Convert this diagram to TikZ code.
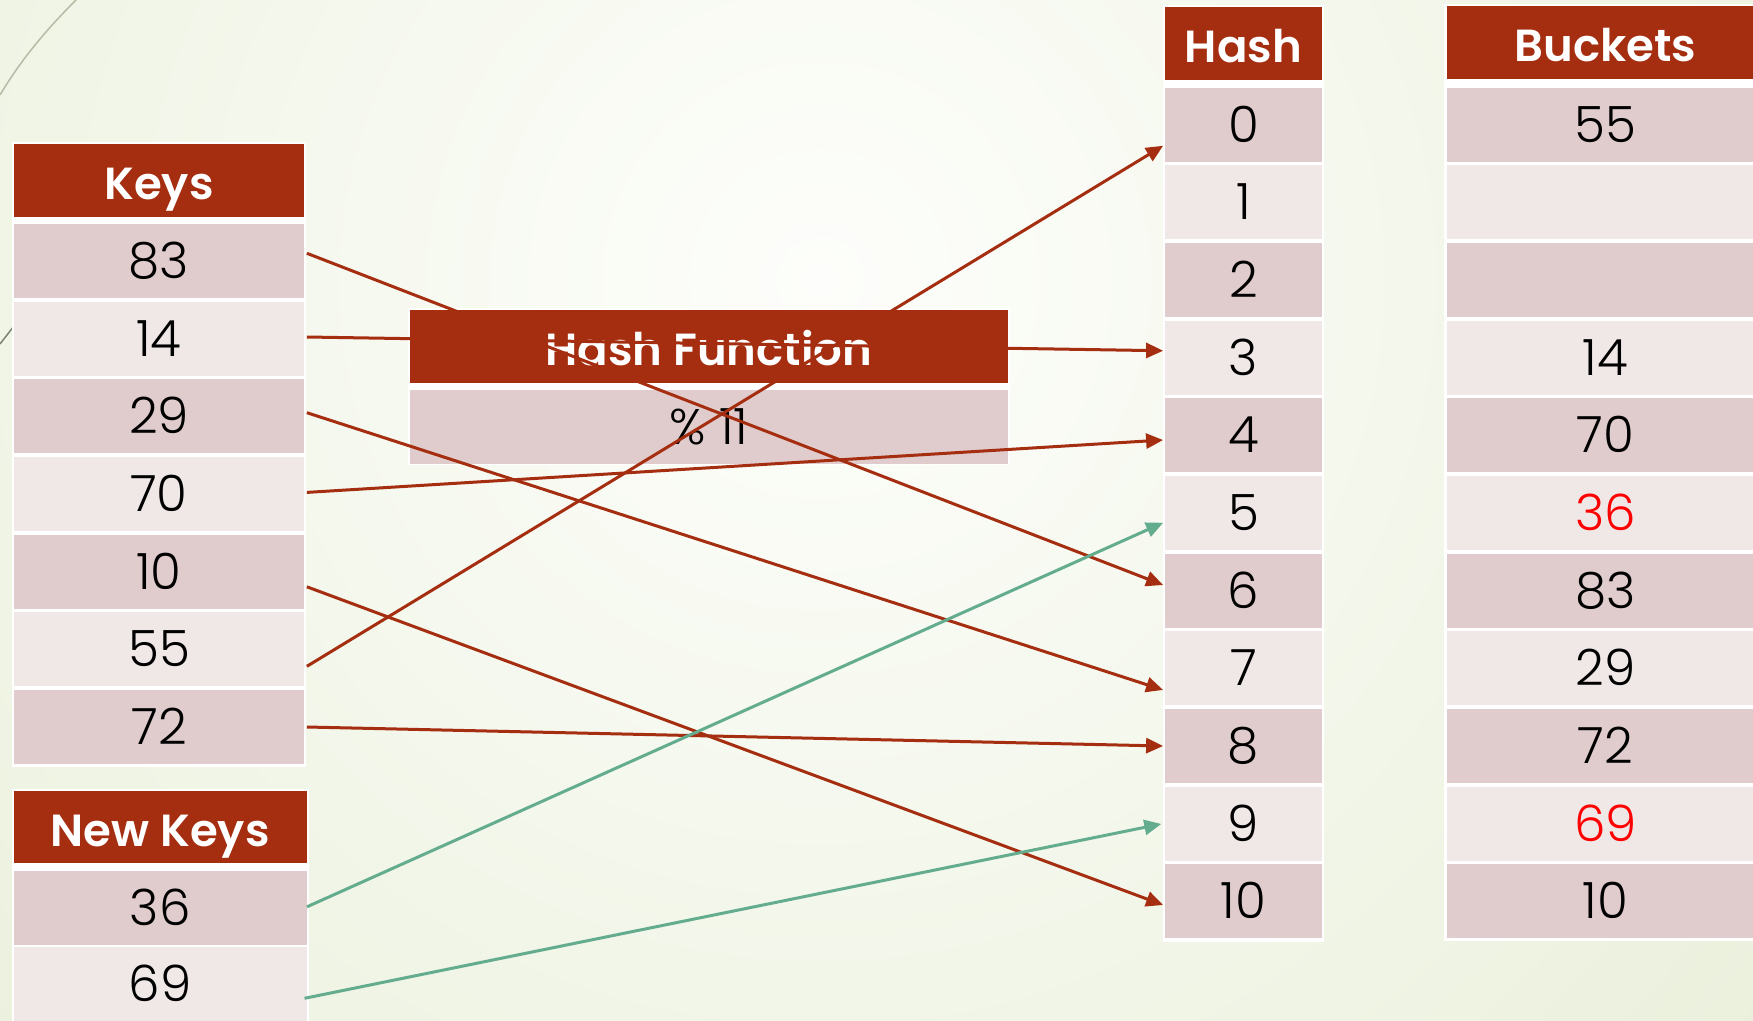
\documentclass[tikz,border=0pt]{standalone}
\usepackage{fontspec}
\setmainfont{Poppins}
\IfFontExistsTF{Poppins Light}{\newfontfamily\digitfont{Poppins Light}}{\newfontfamily\digitfont{Poppins}}
\IfFontExistsTF{Poppins SemiBold}{\newfontfamily\hdrfont{Poppins SemiBold}}{\newfontfamily\hdrfont{Poppins}[FakeBold=0]\def\hdrfont{\bfseries}}
\usetikzlibrary{arrows.meta,calc}
\definecolor{hdrred}{RGB}{165,46,17}
\definecolor{cdark}{RGB}{224,204,204}
\definecolor{clight}{RGB}{240,231,231}
\definecolor{linered}{RGB}{165,46,17}
\definecolor{linegreen}{RGB}{100,172,142}
\definecolor{bgout}{RGB}{226,234,206}
\definecolor{bgin}{RGB}{253,254,251}
\definecolor{decoline}{RGB}{180,188,165}
\tikzset{
  hdr/.style={fill=hdrred, text=white, font=\hdrfont\fontsize{45}{50}\selectfont,
    minimum height=72.6pt, inner sep=0pt, text height=38pt, text depth=0pt},
  cella/.style={fill=cdark, font=\digitfont\fontsize{50}{54}\selectfont,
    minimum height=74pt, inner sep=0pt, text height=35pt, text depth=0pt},
  cellb/.style={cella, fill=clight},
  frame/.style={fill=white},
  arr/.style={draw=linered, line width=3pt, -{Triangle[length=17pt,width=15pt]}},
  garr/.style={arr, draw=linegreen},
}
\begin{document}
\begin{tikzpicture}[x=1pt,y=-1pt]
\useasboundingbox (0,0) rectangle (1753,1020);
\clip (0,0) rectangle (1753,1020);
% background
\shade[inner color=bgin, outer color=bgout] (820,280) circle (1750);
\draw[decoline, line width=1.5pt] (0,95) .. controls (22,58) and (48,28) .. (76,0);
\draw[decoline!70!black, line width=1.5pt] (0,344) -- (14,326);

% Keys table
\fill[frame] (12,142) rectangle (306,767);
\node[hdr, minimum width=290pt] (kh) at (159,180.3) {Keys};
\foreach \v [count=\i from 0] in {83,14,29,70,10,55,72}{
  \ifodd\i \def\st{cellb}\else\def\st{cella}\fi
  \node[\st, minimum width=290pt] (k\v) at (159,{260.8+77.7*\i}) {\v};
}

% New Keys table
\fill[frame] (12,788.7) rectangle (308.7,1025);
\node[hdr, minimum width=292.5pt] (nkh) at (160.3,827) {New Keys};
\node[cella, minimum width=292.5pt] (n36) at (160.3,907.8) {36};
\node[cellb, minimum width=292.5pt] (n69) at (160.3,983.7) {69};

% Hash function
\fill[frame] (408,308) rectangle (1009.5,465.3);
\node[hdr, minimum width=597.5pt] (hfh) at (708.8,346.3) {Hash Function};
\node[cella, minimum width=597.5pt] (hfb) at (708.8,427) {\% 11};

% Hash table
\fill[frame] (1163,5.3) rectangle (1324,941.5);
\node[hdr, minimum width=157pt] (hh) at (1243.5,43.7) {Hash};
\foreach \i in {0,...,10}{
  \ifodd\i \def\st{cellb}\else\def\st{cella}\fi
  \node[\st, minimum width=157pt] (h\i) at (1243.5,{124.8+77.65*\i}) {\i};
}

% Buckets table
\fill[frame] (1444,4) rectangle (1770,940.5);
\node[hdr, minimum width=317pt] (bh) at (1605.5,42.5) {Buckets};
\node[cella, minimum width=317pt] (b0) at (1605.5,124.8) {55};
\node[cellb, minimum width=317pt] (b1) at (1605.5,202.45) {};
\node[cella, minimum width=317pt] (b2) at (1605.5,280.1) {};
\node[cellb, minimum width=317pt] (b3) at (1605.5,357.75) {14};
\node[cella, minimum width=317pt] (b4) at (1605.5,435.4) {70};
\node[cellb, minimum width=317pt, text=red] (b5) at (1605.5,513.05) {36};
\node[cella, minimum width=317pt] (b6) at (1605.5,590.7) {83};
\node[cellb, minimum width=317pt] (b7) at (1605.5,668.35) {29};
\node[cella, minimum width=317pt] (b8) at (1605.5,746) {72};
\node[cellb, minimum width=317pt, text=red] (b9) at (1605.5,823.65) {69};
\node[cella, minimum width=317pt] (b10) at (1605.5,901.3) {10};

% connectors
\draw[arr] ($(k83.east)+(2.7,-7.5)$) -- ($(h6.west)+(-1.7,-5.7)$);
\draw[arr] ($(k14.east)+(2.7,-1.5)$) -- ($(h3.west)+(-1.7,-7)$);
\draw[arr] ($(k29.east)+(2.7,-3.5)$) -- ($(h7.west)+(-1.7,21.6)$);
\draw[arr] ($(k70.east)+(2.7,-1.5)$) -- ($(h4.west)+(-1.7,4.6)$);
\draw[arr] ($(k10.east)+(2.7,15.2)$) -- ($(h10.west)+(-1.7,3.7)$);
\draw[arr] ($(k55.east)+(2.7,17)$) -- ($(h0.west)+(-1.7,21)$);
\draw[arr] ($(k72.east)+(2.7,0)$) -- ($(h8.west)+(-1.7,0)$);
\draw[garr] ($(n36.east)+(0.2,-1)$) -- ($(h5.west)+(-1.7,9.7)$);
\draw[garr] ($(n69.east)+(-2.2,14.6)$) -- ($(h9.west)+(-3.5,0.3)$);
\end{tikzpicture}
\end{document}
